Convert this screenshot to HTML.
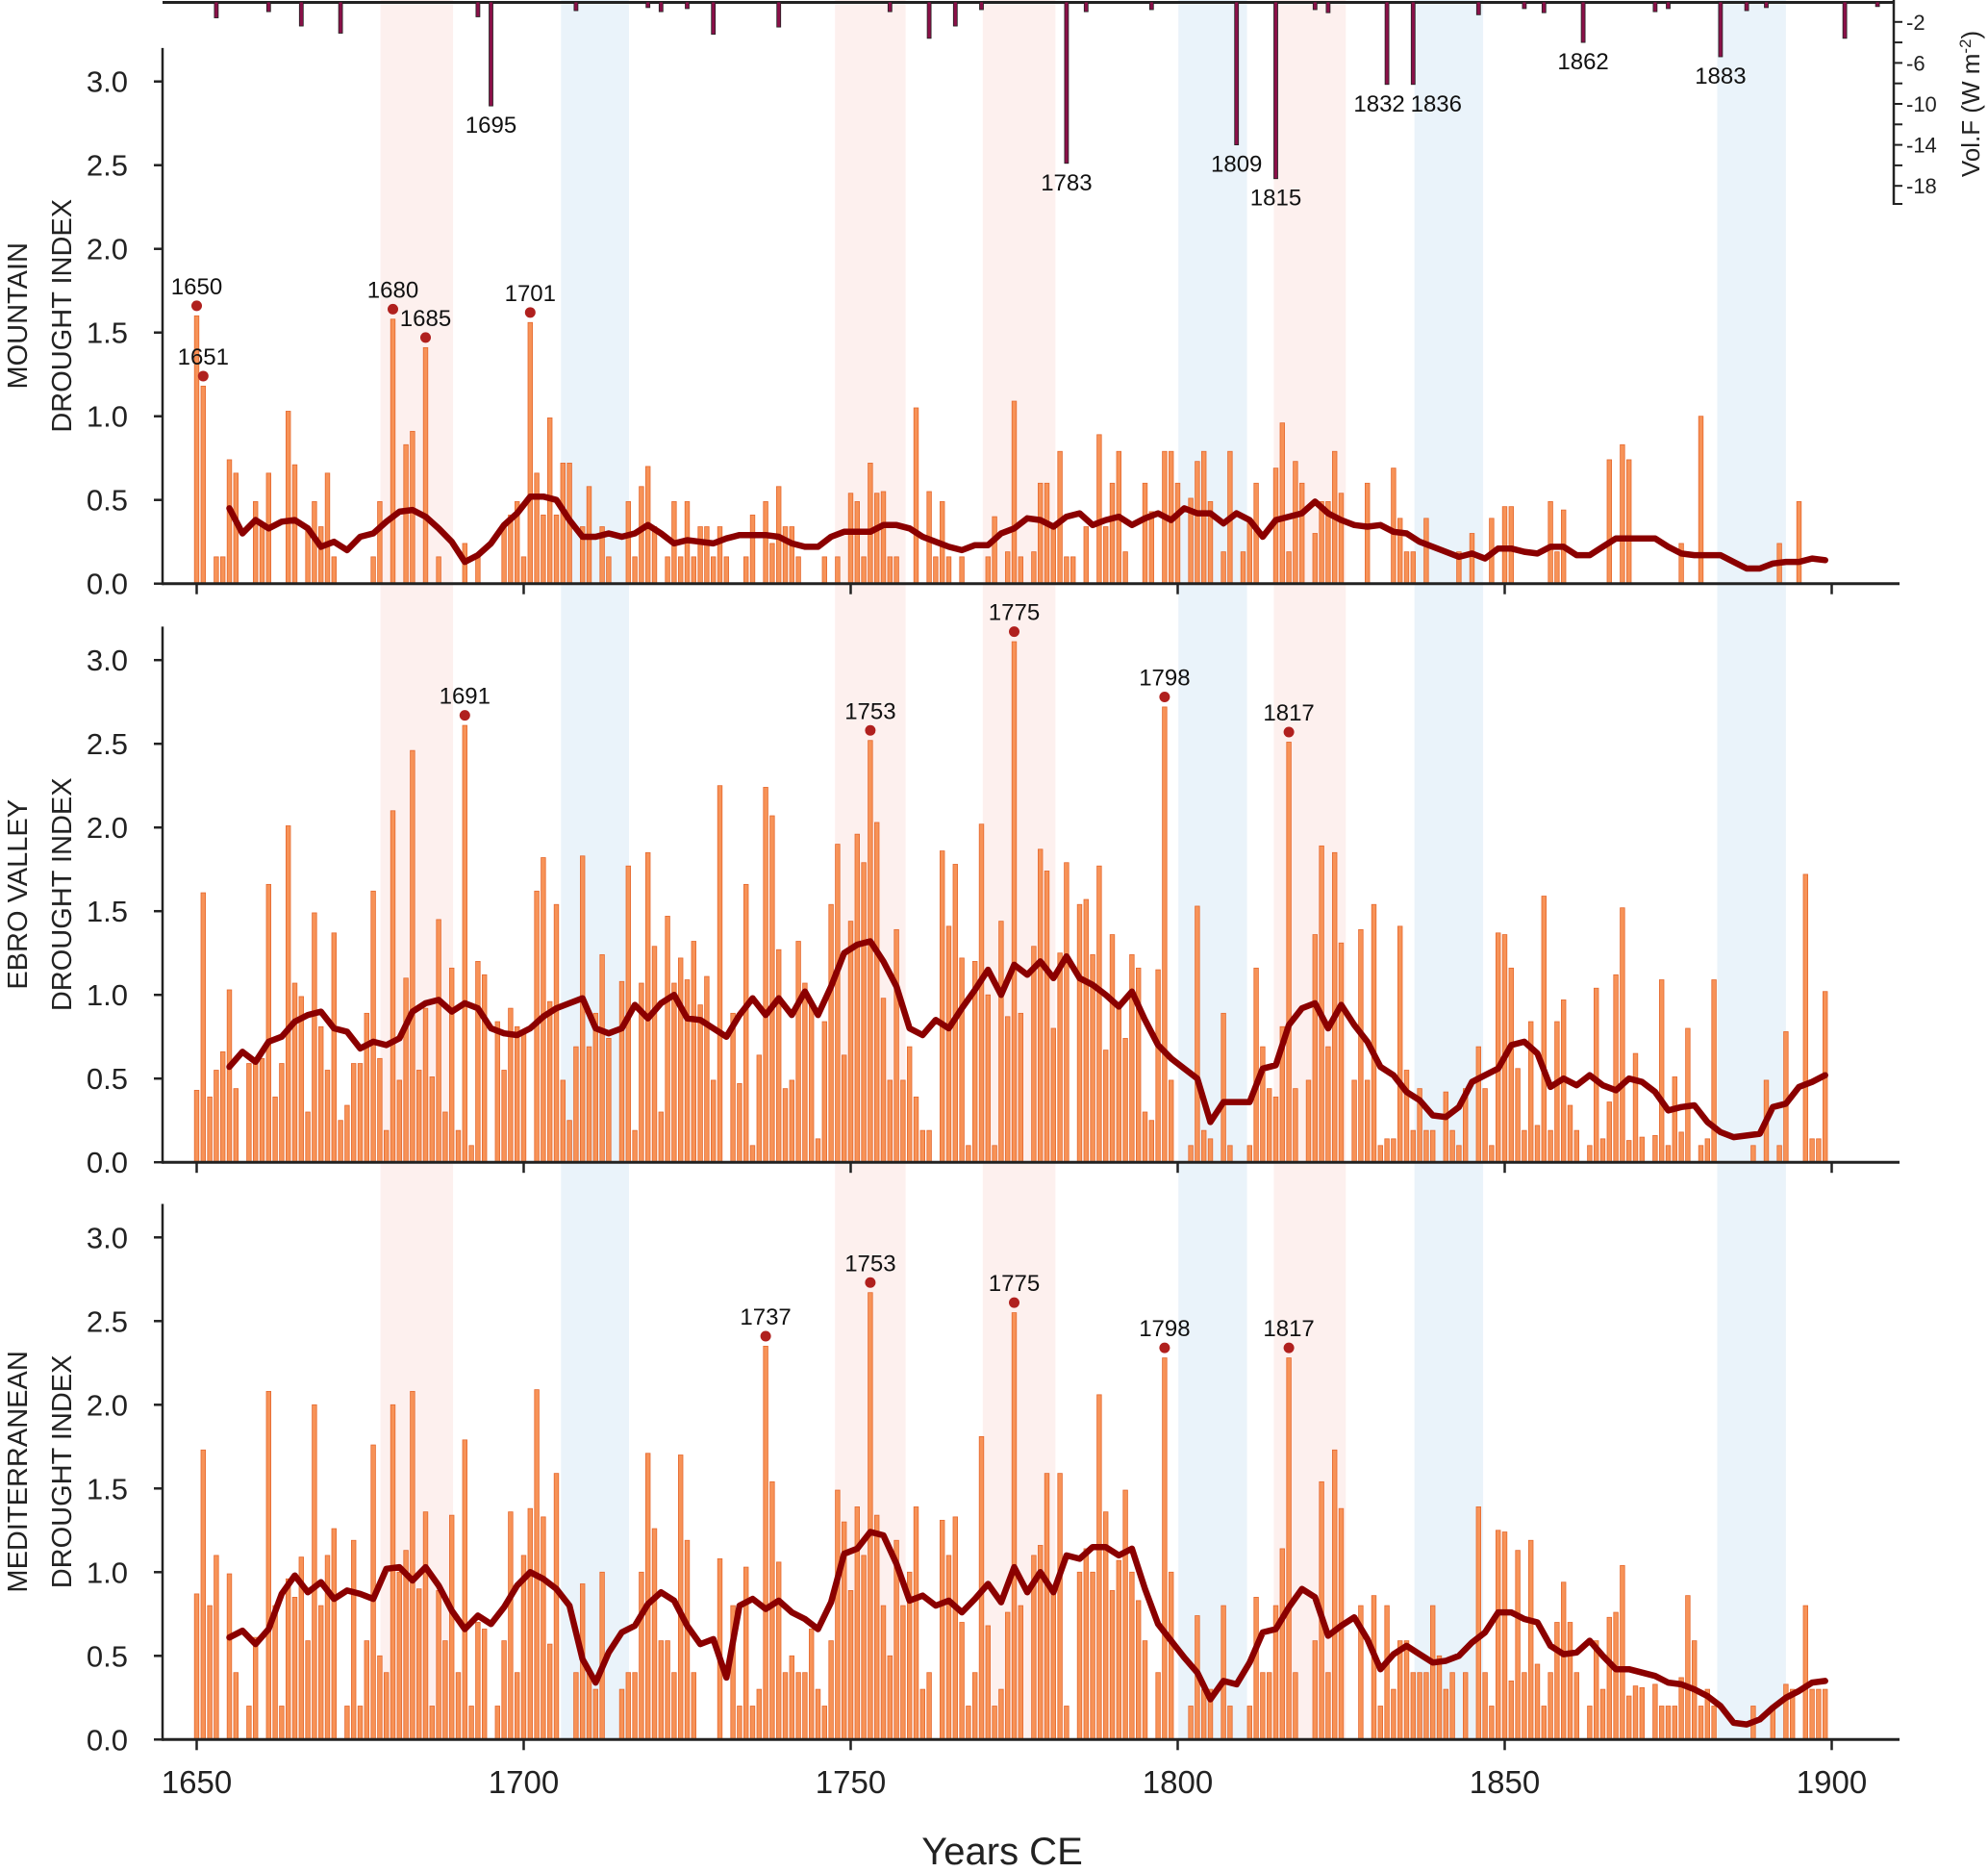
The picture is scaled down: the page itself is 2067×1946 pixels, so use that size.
<!DOCTYPE html>
<html><head><meta charset="utf-8"><title>Drought index reconstruction</title>
<style>
html,body{margin:0;padding:0;background:#fff;}
svg{display:block;font-family:"Liberation Sans",Arial,sans-serif;}
</style></head>
<body>
<svg id="chart" width="2067" height="1946" viewBox="0 0 2067 1946" xmlns="http://www.w3.org/2000/svg">
<g id="bands"></g>
<g id="volc"></g>
<g id="p0"></g>
<g id="p1"></g>
<g id="p2"></g>
<g id="xaxis"></g>
</svg>
<script>
const startYear = 1650;
const mountainValues = [
1.60,1.18,0,.16,.16,.74,.66,0,0,.49,
.34,.66,0,0,1.03,.71,0,.34,.49,.34,
.66,.16,0,0,0,0,0,.16,.49,0,
1.58,0,.83,.91,0,1.41,0,.16,0,0,
0,.24,0,.16,0,0,0,.34,.41,.49,
.16,1.56,.66,.41,.99,.41,.72,.72,0,.34,
.58,0,.34,.16,0,0,.49,.16,.58,.70,
.34,0,.16,.49,.16,.49,.16,.34,.34,.16,
.34,.16,0,0,.16,.41,0,.49,.24,.58,
.34,.34,.16,0,0,0,.16,0,.16,0,
.54,.49,.16,.72,.54,.55,.16,.16,0,0,
1.05,0,.55,.16,.49,.16,0,.16,0,0,
0,.16,.40,0,.19,1.09,.16,0,.19,.60,
.60,.34,.79,.16,.16,0,.34,0,.89,.34,
.60,.79,.19,0,0,.60,.43,0,.79,.79,
.60,0,.51,.73,.79,.49,0,.19,.79,0,
.19,.38,.60,0,0,.69,.96,.19,.73,.60,
0,.30,.49,.49,.79,.54,0,0,0,.60,
0,0,0,.69,.39,.19,.19,0,.39,0,
0,0,0,.19,0,.30,0,0,.39,0,
.46,.46,0,0,0,0,0,.49,.19,.44,
0,0,0,0,0,0,.74,0,.83,.74,
0,0,0,0,0,0,0,.24,0,0,
1.0,0,0,0,0,0,0,0,0,0,
0,0,.24,0,0,.49,0,0,0,0];
const ebroValues = [
.43,1.61,.39,.55,.66,1.03,.44,0,.59,.61,
.62,1.66,.39,.59,2.01,1.07,.99,.30,1.49,.81,
.55,1.37,.25,.34,.59,.59,.89,1.62,.62,.19,
2.10,.49,1.10,2.46,.55,.92,.51,1.45,.30,1.16,
.19,2.61,.10,1.20,1.12,0,.84,.55,.92,.81,
.79,0,1.62,1.82,.96,1.54,.49,.25,.69,1.83,
.69,.89,1.24,.74,0,1.08,1.77,.19,1.07,1.85,
1.29,.30,1.47,1.07,1.22,1.09,1.32,.94,1.11,.49,
2.25,0,.89,.47,1.66,.10,.64,2.24,2.07,1.27,
.44,.49,1.32,1.07,.96,.14,.84,1.54,1.90,.64,
1.44,1.96,1.79,2.52,2.03,.98,.49,1.39,.49,.69,
.39,.19,.19,0,1.86,1.41,1.78,1.22,.10,1.20,
2.02,1.0,.10,1.44,.87,3.11,.89,0,1.29,1.87,
1.74,.80,1.25,1.79,0,1.54,1.57,1.24,1.77,.67,
1.36,.93,.74,1.24,1.16,.30,.25,1.15,2.72,.49,
0,0,.10,1.53,.19,.14,0,.89,.10,0,
0,.10,1.16,.69,.44,.39,.81,2.51,.44,0,
.49,1.36,1.89,.69,1.85,1.31,0,.49,1.39,.49,
1.54,.10,.14,.14,1.41,.55,.19,.44,.19,.19,
0,.42,.19,.10,.44,0,.69,.44,.10,1.37,
1.36,1.16,.56,.19,.84,.22,1.59,.19,.84,.97,
.34,.19,0,.10,1.04,.14,.36,1.12,1.52,.13,
.65,.15,0,.16,1.09,.10,.51,.18,.80,0,
.10,.14,1.09,0,0,0,0,0,.10,0,
.49,0,.10,.78,0,0,1.72,.14,.14,1.02];
const medValues = [
.87,1.73,.80,1.10,0,.99,.40,0,.20,.61,
0,2.08,.80,.20,.96,.85,1.09,.59,2.0,.80,
1.10,1.26,0,.20,1.19,.20,.59,1.76,.50,.40,
2.0,1.0,1.13,2.08,.90,1.36,.20,.89,.59,1.34,
.40,1.79,.20,.70,.66,0,.20,.59,1.36,.40,
1.10,1.38,2.09,1.33,.57,1.59,0,0,.40,.93,
.40,.30,1.0,0,0,.30,.40,.40,1.0,1.71,
1.26,.59,.59,.40,1.70,1.19,.40,0,0,0,
1.08,0,.80,.20,1.03,.20,.30,2.35,1.54,1.06,
.40,.50,.40,.40,.66,.30,.20,.59,1.49,1.30,
.89,1.39,1.10,2.67,1.34,.80,.50,1.19,.80,1.0,
1.39,.30,.40,0,1.31,1.10,1.33,.70,.20,.40,
1.81,.68,.20,.30,.76,2.55,.80,0,1.10,1.16,
1.59,.88,1.59,.20,0,1.0,1.14,1.0,2.06,1.36,
.89,1.07,1.49,1.0,.83,.59,0,.40,2.28,1.0,
0,0,.20,.74,.30,.30,0,.80,.20,0,
0,.20,.85,.40,.40,.80,1.14,2.28,.40,0,
0,.59,1.54,.40,1.73,1.38,0,0,.80,0,
.86,.20,.80,.30,.59,.59,.40,.40,.40,.80,
.50,.30,.40,0,.40,0,1.39,.40,.20,1.25,
1.24,.35,1.13,.40,1.19,.45,.20,.40,.70,.94,
.70,.40,0,.20,.59,.30,.73,.76,1.04,.26,
.32,.31,0,.33,.20,.20,.20,.37,.86,.59,
.20,.30,.20,0,0,0,0,0,.20,0,
0,.20,0,.33,.30,0,.80,.30,.30,.30];
const smoothStart = 1655, smoothStep = 2;
const mountainSmooth = [.45,.30,.38,.33,.37,.38,.33,.22,.25,.20,.28,.30,.37,.43,.44,.40,.33,.25,.13,.17,.24,.35,.42,.52,.52,.50,.38,.28,.28,.30,.28,.30,.35,.30,.24,.26,.25,.24,.27,.29,.29,.29,.28,.24,.22,.22,.28,.31,.31,.31,.35,.35,.33,.28,.25,.22,.20,.23,.23,.30,.33,.39,.38,.34,.40,.42,.35,.38,.40,.35,.39,.42,.38,.45,.42,.42,.36,.42,.38,.28,.38,.40,.42,.49,.42,.38,.35,.34,.35,.31,.30,.25,.22,.19,.16,.18,.15,.21,.21,.19,.18,.22,.22,.17,.17,.22,.27,.27,.27,.27,.22,.18,.17,.17,.17,.13,.09,.09,.12,.13,.13,.15,.14];
const ebroSmooth = [.57,.66,.60,.72,.75,.84,.88,.90,.80,.78,.68,.72,.70,.74,.90,.95,.97,.90,.95,.92,.80,.77,.76,.80,.87,.92,.95,.98,.80,.77,.80,.94,.86,.95,1.00,.86,.85,.80,.75,.88,.98,.88,.98,.88,1.02,.88,1.05,1.25,1.30,1.32,1.20,1.05,.80,.76,.85,.80,.92,1.03,1.15,1.00,1.18,1.12,1.20,1.10,1.23,1.10,1.06,1.00,.93,1.02,.85,.70,.62,.56,.50,.24,.36,.36,.36,.56,.58,.82,.92,.95,.80,.94,.82,.72,.57,.52,.42,.37,.28,.27,.33,.48,.52,.56,.70,.72,.65,.45,.50,.46,.52,.46,.43,.50,.48,.42,.31,.33,.34,.24,.18,.15,.16,.17,.33,.35,.45,.48,.52];
const medSmooth = [.61,.65,.57,.66,.87,.98,.88,.94,.84,.89,.87,.84,1.02,1.03,.95,1.03,.92,.77,.66,.74,.69,.79,.92,1.0,.96,.90,.80,.48,.34,.52,.64,.68,.81,.88,.83,.68,.57,.60,.37,.80,.84,.78,.83,.76,.72,.66,.82,1.11,1.14,1.24,1.22,1.05,.83,.86,.80,.83,.76,.84,.93,.82,1.03,.88,1.00,.88,1.10,1.08,1.15,1.15,1.10,1.14,.90,.69,.59,.49,.40,.24,.35,.33,.46,.64,.66,.79,.90,.85,.62,.68,.73,.60,.42,.51,.56,.51,.46,.47,.50,.58,.64,.76,.76,.72,.70,.56,.51,.52,.59,.50,.42,.42,.40,.38,.34,.33,.30,.26,.20,.10,.09,.12,.19,.25,.29,.34,.35];
const mountainPeaks = [1650,1651,1680,1685,1701];
const ebroPeaks = [1691,1753,1775,1798,1817];
const medPeaks = [1737,1753,1775,1798,1817];
const volcYears = [1653,1661,1666,1672,1693,1695,1708,1719,1721,1725,1729,1739,1756,1762,1766,1770,1783,1786,1796,1809,1815,1821,1823,1832,1836,1846,1853,1856,1862,1873,1875,1883,1887,1890,1902,1907];
const volcValues = [-1.6,-1.0,-2.4,-3.1,-1.5,-10.2,-0.9,-0.6,-1.0,-0.7,-3.2,-2.5,-1.0,-3.6,-2.4,-0.8,-15.8,-1.0,-0.8,-14.0,-17.3,-0.8,-1.1,-8.1,-8.1,-1.3,-0.7,-1.1,-4.0,-1.0,-0.7,-5.4,-0.9,-0.6,-3.6,-0.5];
const volcLabelYears = [1695,1783,1809,1815,1832,1836,1862,1883];
const yTicks = [0,0.5,1.0,1.5,2.0,2.5,3.0];
const xTicks = [1650,1700,1750,1800,1850,1900];
const volcTicks = [-2,-4,-6,-8,-10,-12,-14,-16,-18];
const volcTickLabels = [-2,-6,-10,-14,-18];
const warmBands = [[1678.1,1689.2],[1747.6,1758.4],[1770.2,1781.3],[1814.7,1825.7]];
const coolBands = [[1705.7,1716.1],[1800.1,1810.6],[1836.2,1846.7],[1882.5,1893]];

const NS = "http://www.w3.org/2000/svg";
function mk(parent, tag, attrs, text){
  const e = document.createElementNS(NS, tag);
  for (const k in attrs) e.setAttribute(k, attrs[k]);
  if (text !== undefined) e.textContent = text;
  parent.appendChild(e);
  return e;
}
function xScale(y){ return 204.5 + (y - 1650) * 6.8; }
const bases = [606.7, 1208.2, 1808.3];
const unit = 174;
function yScale(p, v){ return bases[p] - v * unit; }
function vScale(v){ return 1.5 + (-v) * 10.65; }

// bands
const bandG = document.getElementById('bands');
warmBands.forEach(b => {
  const r = mk(bandG, 'rect', {x: xScale(b[0]), y: 0, width: xScale(b[1]) - xScale(b[0]), height: 1808, fill: '#fdf0ee'});
  
  
});
coolBands.forEach(b => {
  const r = mk(bandG, 'rect', {x: xScale(b[0]), y: 0, width: xScale(b[1]) - xScale(b[0]), height: 1808, fill: '#eaf3fa'});
  
  
});

// volcanic panel
const vg = document.getElementById('volc');
const vline = mk(vg, 'line', {x1: 169, x2: 1969, y1: 2.5, y2: 2.5, stroke: '#222', 'stroke-width': 3});


volcYears.forEach((yr, i) => {
  const x = xScale(yr);
  const r = mk(vg, 'rect', {x: x - 2, y: 2, width: 4, height: vScale(volcValues[i]) - 2, fill: '#8a1048', stroke: '#222', 'stroke-width': 0.8});
  
  
});
volcLabelYears.forEach(yr => {
  const i = volcYears.indexOf(yr);
  let dx = 0;
  if (yr === 1832) dx = -8;
  if (yr === 1836) dx = 24;
  const t = mk(vg, 'text', {x: xScale(yr) + dx, y: vScale(volcValues[i]) + 28, 'font-size': 24, 'text-anchor': 'middle', fill: '#111'}, String(yr));
  
  
});
const vax = mk(vg, 'line', {x1: 1969, x2: 1969, y1: 0, y2: 213, stroke: '#222', 'stroke-width': 2.5});


volcTicks.forEach(v => {
  const tk = mk(vg, 'line', {x1: 1969, x2: 1978, y1: vScale(v), y2: vScale(v), stroke: '#222', 'stroke-width': 2});
  
  
});
const endTk = mk(vg, 'line', {x1: 1969, x2: 1978, y1: 212, y2: 212, stroke: '#222', 'stroke-width': 2});


volcTickLabels.forEach(v => {
  const t = mk(vg, 'text', {x: 1982, y: vScale(v) + 8, 'font-size': 22, fill: '#222'}, String(v));
  
  
});
const vt = mk(vg, 'text', {x: 0, y: 0, 'font-size': 26, fill: '#222', 'text-anchor': 'middle', transform: 'translate(2058,108) rotate(-90)'});


vt.appendChild(document.createTextNode('Vol.F (W m'));
const sup = mk(vt, 'tspan', {dy: -9, 'font-size': 17}, '-2');


const cl = mk(vt, 'tspan', {dy: 9}, ')');



// panels
const panels = [
  {id: 'p0', vals: mountainValues, smooth: mountainSmooth, peaks: mountainPeaks, t1: 'MOUNTAIN', key: 'mountain'},
  {id: 'p1', vals: ebroValues, smooth: ebroSmooth, peaks: ebroPeaks, t1: 'EBRO VALLEY', key: 'ebro'},
  {id: 'p2', vals: medValues, smooth: medSmooth, peaks: medPeaks, t1: 'MEDITERRANEAN', key: 'mediterranean'}
];
panels.forEach((P, p) => {
  const g = document.getElementById(P.id);
  P.vals.forEach((v, i) => {
    if (v <= 0) return;
    const yr = startYear + i;
    const r = mk(g, 'rect', {x: xScale(yr) - 2.3, y: yScale(p, v), width: 4.6, height: v * unit, fill: '#f79257', stroke: '#e5692f', 'stroke-width': 0.8});
    
    
  });
  const pts = P.smooth.map((v, i) => xScale(smoothStart + i * smoothStep).toFixed(1) + ',' + yScale(p, v).toFixed(1)).join(' ');
  const pl = mk(g, 'polyline', {points: pts, fill: 'none', stroke: '#8b0000', 'stroke-width': 6.5, 'stroke-linejoin': 'round', 'stroke-linecap': 'round'});
  
  
  P.peaks.forEach(yr => {
    const v = P.vals[yr - startYear];
    const cy = yScale(p, v + 0.06);
    const c = mk(g, 'circle', {cx: xScale(yr), cy: cy, r: 5.5, fill: '#b0201e'});
    
    
    const t = mk(g, 'text', {x: xScale(yr), y: cy - 12, 'font-size': 24, 'text-anchor': 'middle', fill: '#111'}, String(yr));
    
    
  });
  // axes
  const ax = mk(g, 'line', {x1: 169, x2: 1975, y1: bases[p], y2: bases[p], stroke: '#222', 'stroke-width': 3});
  
  
  const sp = mk(g, 'line', {x1: 169, x2: 169, y1: yScale(p, 3.2), y2: bases[p] + 1.5, stroke: '#222', 'stroke-width': 2.5});
  
  
  yTicks.forEach(v => {
    const y = yScale(p, v);
    const tk = mk(g, 'line', {x1: 160, x2: 169, y1: y, y2: y, stroke: '#222', 'stroke-width': 2.5});
    
    
    const t = mk(g, 'text', {x: 133, y: y + 11, 'font-size': 31, 'text-anchor': 'end', fill: '#222'}, v.toFixed(1));
    
    
  });
  xTicks.forEach(yr => {
    const tk = mk(g, 'line', {x1: xScale(yr), x2: xScale(yr), y1: bases[p], y2: bases[p] + 11, stroke: '#222', 'stroke-width': 2.5});
    
    
  });
  const cy = yScale(p, 1.6);
  const t1 = mk(g, 'text', {x: 0, y: 0, 'font-size': 29, 'text-anchor': 'middle', fill: '#222', transform: 'translate(28,' + cy + ') rotate(-90)'}, P.t1);
  
  
  const t2 = mk(g, 'text', {x: 0, y: 0, 'font-size': 29, 'text-anchor': 'middle', fill: '#222', transform: 'translate(74,' + cy + ') rotate(-90)'}, 'DROUGHT INDEX');
  
  
});

// bottom x axis labels
const xg = document.getElementById('xaxis');
xTicks.forEach(yr => {
  const t = mk(xg, 'text', {x: xScale(yr), y: 1864, 'font-size': 33, 'text-anchor': 'middle', fill: '#222'}, String(yr));
  
  
});
const xt = mk(xg, 'text', {x: 1042, y: 1938, 'font-size': 40, 'text-anchor': 'middle', fill: '#222'}, 'Years CE');


</script>
</body></html>
